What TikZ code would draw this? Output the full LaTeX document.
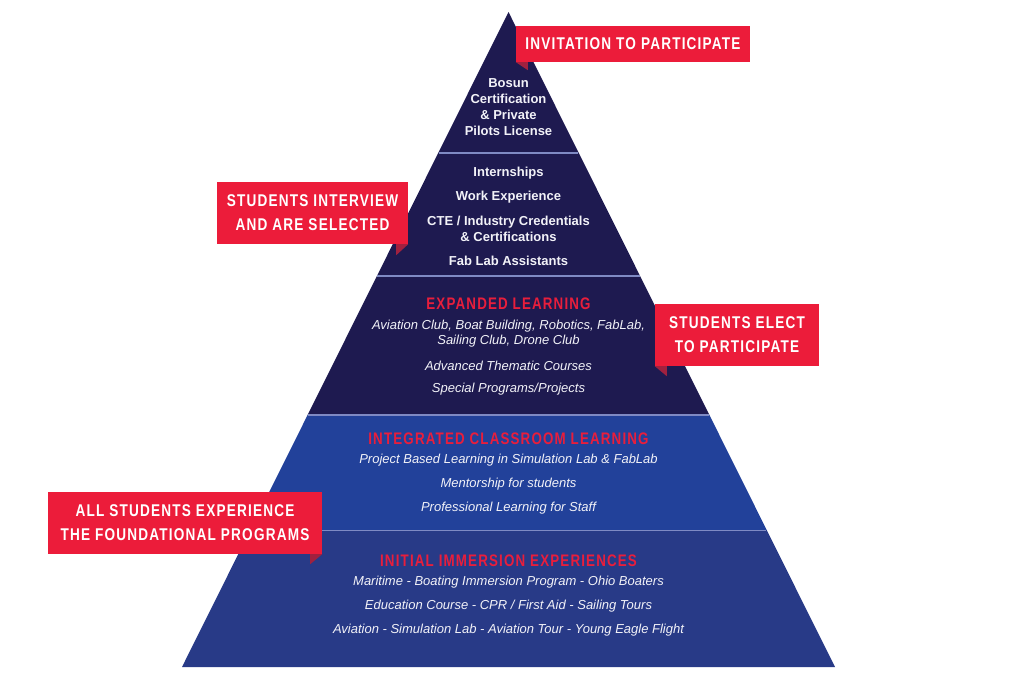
\documentclass[tikz,border=0pt]{standalone}
\usepackage{fontspec}
\setmainfont{Liberation Sans}
\newfontfamily\bannerfont[FakeStretch=0.8,LetterSpace=7]{Liberation Sans}
\definecolor{navy}{HTML}{1E1A50}
\definecolor{midblue}{HTML}{22419A}
\definecolor{lowblue}{HTML}{283A87}
\definecolor{sepline}{HTML}{7F8AC4}
\definecolor{bannerred}{HTML}{EC1C3A}
\definecolor{foldred}{HTML}{A0213F}
\definecolor{headred}{HTML}{E81E3C}
\definecolor{softwhite}{HTML}{F2F2F8}
\tikzset{
  banner/.style={fill=bannerred, text=white, inner sep=0pt, align=center,
    font=\bannerfont\bfseries\fontsize{17}{24}\selectfont},
  fold/.style={fill=foldred},
  boldtxt/.style={text=softwhite, inner sep=0pt, align=center,
    font=\bfseries\fontsize{13}{16}\selectfont},
  itxt/.style={text=softwhite, inner sep=0pt, align=center,
    font=\itshape\fontsize{13}{15}\selectfont},
  heading/.style={text=headred, inner sep=0pt, align=center,
    font=\bannerfont\bfseries\fontsize{16.7}{20}\selectfont},
  sep/.style={draw=sepline, line width=1.3pt}
}
\begin{document}
\begin{tikzpicture}[x=1pt,y=-1pt]
\useasboundingbox (0,0) rectangle (1024,680);
% pyramid bands
\fill[navy] (508.5,12) -- (578.8,153) -- (438.2,153) -- cycle;
\fill[navy] (438.2,153) -- (578.8,153) -- (640.1,276) -- (376.9,276) -- cycle;
\fill[navy] (376.9,276) -- (640.1,276) -- (709.4,415) -- (307.6,415) -- cycle;
\fill[midblue] (307.6,415) -- (709.4,415) -- (766.7,530) -- (250.3,530) -- cycle;
\fill[lowblue] (250.3,530) -- (766.7,530) -- (835,667) -- (182,667) -- cycle;
% separators
\draw[sep] (438.7,153) -- (578.3,153);
\draw[sep] (377.4,276) -- (639.6,276);
\draw[sep] (308.1,415) -- (708.9,415);
\draw[sep] (250.8,530.5) -- (766.2,530.5);
% texts
\node[boldtxt] (bosun) at (508.5,107) {Bosun\\Certification\\\& Private\\Pilots License};
\node[boldtxt] (intern) at (508.5,173.5) {Internships};
\node[boldtxt] (work) at (508.5,197.5) {Work Experience};
\node[boldtxt] (cte) at (508.5,228.5) {CTE / Industry Credentials\\\& Certifications};
\node[boldtxt] (fab) at (508.5,260.5) {Fab Lab Assistants};
\node[heading] (h1) at (508.5,303.5) {EXPANDED LEARNING};
\node[itxt] (clubs) at (508.5,334) {Aviation Club, Boat Building, Robotics, FabLab,\\Sailing Club, Drone Club};
\node[itxt] (adv) at (508.5,365.5) {Advanced Thematic Courses};
\node[itxt] (spec) at (508.5,389.5) {Special Programs/Projects};
\node[heading] (h2) at (508.5,438.5) {INTEGRATED CLASSROOM LEARNING};
\node[itxt] (pbl) at (508.5,460.5) {Project Based Learning in Simulation Lab \& FabLab};
\node[itxt] (ment) at (508.5,484.5) {Mentorship for students};
\node[itxt] (prof) at (508.5,508.5) {Professional Learning for Staff};
\node[heading] (h3) at (508.5,560.5) {INITIAL IMMERSION EXPERIENCES};
\node[itxt] (mar) at (508.5,582.5) {Maritime - Boating Immersion Program - Ohio Boaters};
\node[itxt] (edu) at (508.5,606.5) {Education Course - CPR / First Aid - Sailing Tours};
\node[itxt] (avi) at (508.5,630.5) {Aviation - Simulation Lab - Aviation Tour - Young Eagle Flight};
% banners
\node[banner, minimum width=234, minimum height=36] (b1) at (633,44) {INVITATION TO PARTICIPATE};
\fill[fold] (b1.south west) -- ++(12,0) -- ++(0,8) -- cycle;
\node[banner, minimum width=191, minimum height=62] (b2) at (312.5,213) {STUDENTS INTERVIEW\\AND ARE SELECTED};
\fill[fold] (b2.south east) -- ++(-12,0) -- ++(0,11) -- cycle;
\node[banner, minimum width=164, minimum height=62] (b3) at (737,335) {STUDENTS ELECT\\TO PARTICIPATE};
\fill[fold] (b3.south west) -- ++(12,0) -- ++(0,10) -- cycle;
\node[banner, minimum width=274, minimum height=62] (b4) at (185,523) {ALL STUDENTS EXPERIENCE\\THE FOUNDATIONAL PROGRAMS};
\fill[fold] (b4.south east) -- ++(-12,0) -- ++(0,10) -- cycle;
\end{tikzpicture}
\end{document}
